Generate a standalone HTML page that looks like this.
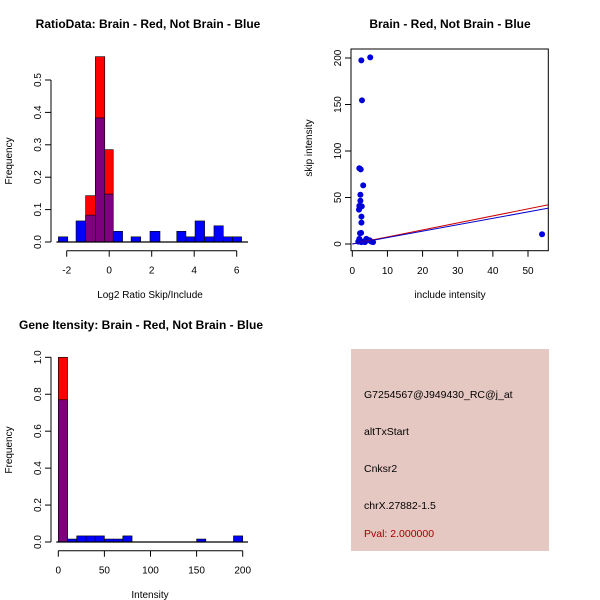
<!DOCTYPE html>
<html><head><meta charset="utf-8"><style>
body{margin:0;background:#fff}
svg{display:block;font-family:"Liberation Sans",sans-serif}
</style></head><body>
<svg id="s" width="600" height="600" viewBox="0 0 600 600">
<rect width="600" height="600" fill="#fff"/>
<text x="148" y="28" font-size="12" font-weight="bold" text-anchor="middle">RatioData: Brain - Red, Not Brain - Blue</text>
<text x="450" y="28" font-size="12" font-weight="bold" text-anchor="middle">Brain - Red, Not Brain - Blue</text>
<text x="141" y="329" font-size="12" font-weight="bold" text-anchor="middle">Gene Itensity: Brain - Red, Not Brain - Blue</text>
<text x="150" y="298" font-size="10" text-anchor="middle">Log2 Ratio Skip/Include</text>
<text transform="translate(12,161) rotate(-90)" font-size="10" text-anchor="middle">Frequency</text>
<text x="450" y="298" font-size="10" text-anchor="middle">include intensity</text>
<text transform="translate(312,148) rotate(-90)" font-size="10" text-anchor="middle">skip intensity</text>
<text x="150" y="598" font-size="10" text-anchor="middle">Intensity</text>
<text transform="translate(12,450) rotate(-90)" font-size="10" text-anchor="middle">Frequency</text>
<g>
<rect x="351" y="349" width="198" height="202" fill="#e6c8c2"/>
<g font-size="10.5">
<text x="364" y="398">G7254567@J949430_RC@j_at</text>
<text x="364" y="435">altTxStart</text>
<text x="364" y="472">Cnksr2</text>
<text x="364" y="509">chrX.27882-1.5</text>
<text x="364" y="537" fill="#a00000">Pval: 2.000000</text>
</g></g>
</svg>
<script>
// Ratio histogram data
const ratioBlueEdges=[[-2.39,-1.95],[-1.56,-1.11],[-1.11,-0.65],[-0.65,-0.21],[-0.21,0.19],[0.19,0.63],[1.03,1.48],[1.92,2.39],[3.18,3.61],[3.61,4.04],[4.04,4.49],[4.49,4.93],[4.93,5.37],[5.37,5.81],[5.81,6.23]];
const ratioBlue=[0.016,0.065,0.083,0.383,0.148,0.033,0.016,0.033,0.033,0.016,0.065,0.016,0.05,0.016,0.016];
const ratioRedEdges=[[-1.11,-0.65],[-0.65,-0.21],[-0.21,0.19]];
const ratioRed=[0.143,0.572,0.285];
const ratioXTicks=[-2,0,2,4,6];
const ratioYTicks=["0.0","0.1","0.2","0.3","0.4","0.5"];
// Intensity histogram data
const intBlueEdges=[[0,10],[10,20],[20,30],[30,40],[40,50],[50,60],[60,70],[70,80],[150,160],[190,200]];
const intBlue=[0.77,0.016,0.033,0.033,0.033,0.016,0.016,0.033,0.016,0.033];
const intRedEdges=[[0,10]];
const intRed=[1.0];
const intXTicks=[0,50,100,150,200];
const intYTicks=["0.0","0.2","0.4","0.6","0.8","1.0"];
// Scatter data
const incl=[2.57,5.1,2.75,2.0,2.4,3.1,2.3,2.3,2.0,2.7,1.9,2.6,2.6,2.5,2.2,2.0,1.7,3.1,4.0,4.9,5.4,5.9,54,2.6,3.6];
const skip=[197.5,200.7,154.5,81.4,80.3,63,53,46.5,41,40.5,37,29.5,23,12,11.5,5.5,2.5,2.5,5.5,4,2.5,2,10.5,2,2];
const redSlope=0.755, blueSlope=0.69;
const scXTicks=[0,10,20,30,40,50];
const scYTicks=[0,50,100,150,200];

const NS="http://www.w3.org/2000/svg", svg=document.getElementById('s');
function mk(t,a,p){const e=document.createElementNS(NS,t);for(const k in a)e.setAttribute(k,a[k]);(p||svg).appendChild(e);return e;}

function hist(g,xs,ys,blueE,blue,redE,red,xt,yt,ymax,ystep,axisY,xFmt){
  const key=e=>e[0]+"_"+e[1];
  const redMap={};redE.forEach((e,i)=>redMap[key(e)]=red[i]);
  const blueMap={};blueE.forEach((e,i)=>blueMap[key(e)]=blue[i]);
  redE.forEach((e,i)=>{const b=blueMap[key(e)]||0;
    const r=mk('rect',{x:xs(e[0]),y:ys(red[i]),width:xs(e[1])-xs(e[0]),height:ys(0)-ys(red[i]),fill:'#ff0000',stroke:'#000','stroke-width':0.6},g);
    
    });
  blueE.forEach((e,i)=>{const rv=redMap[key(e)];const ov=rv!==undefined;
    const r=mk('rect',{x:xs(e[0]),y:ys(blue[i]),width:xs(e[1])-xs(e[0]),height:ys(0)-ys(blue[i]),fill:ov?'#7f007f':'#0000ff',stroke:'#000','stroke-width':0.6},g);
    
    });
  // y axis
  const y0=ys(0), y1=ys((yt.length-1)*ystep);
  mk('line',{x1:51,x2:51,y1:y0,y2:y1,stroke:'#000'},g);
  yt.forEach((l,i)=>{const y=ys(i*ystep);mk('line',{x1:45,x2:51,y1:y,y2:y,stroke:'#000'},g);
    const t=mk('text',{transform:`translate(41,${y}) rotate(-90)`,'font-size':10,'text-anchor':'middle'},g);t.textContent=l;
    
    });
  mk('line',{x1:xs(xt[0]),x2:xs(xt[xt.length-1]),y1:axisY,y2:axisY,stroke:'#000'},g);
  xt.forEach(v=>{const x=xs(v);mk('line',{x1:x,x2:x,y1:axisY,y2:axisY+6,stroke:'#000'},g);
    const t=mk('text',{x:x,y:axisY+23,'font-size':10,'text-anchor':'middle'},g);t.textContent=v;
    
    });
  mk('line',{x1:xs(blueE[0][0])-2,x2:248,y1:y0,y2:y0,stroke:'#000','stroke-width':1.2},g);
}
const g1=mk('g',{});


hist(g1,v=>66.7+(v+2)*21.25,v=>242-v*324,ratioBlueEdges,ratioBlue,ratioRedEdges,ratioRed,ratioXTicks,ratioYTicks,0.5,0.1,250.7);
const g3=mk('g',{});


hist(g3,v=>58.3+v*0.922,v=>542-v*184.7,intBlueEdges,intBlue,intRedEdges,intRed,intXTicks,intYTicks,1,0.2,550.7);

// scatter
const g2=mk('g',{});


const sx=v=>352.3+v*3.514, sy=v=>244-v*0.93;
mk('defs',{},g2).innerHTML='<clipPath id="cp"><rect x="351" y="49" width="197.3" height="201.7"/></clipPath>';
incl.forEach((v,i)=>{const c=mk('circle',{cx:sx(v),cy:sy(skip[i]),r:3,fill:'#0000dd'},g2);
  
  });
const xmax=60;
const lr=mk('line',{x1:sx(0),y1:sy(0),x2:sx(xmax),y2:sy(xmax*redSlope),stroke:'#cc0000','clip-path':'url(#cp)'},g2);


const lb=mk('line',{x1:sx(0),y1:sy(0),x2:sx(xmax),y2:sy(xmax*blueSlope),stroke:'#0000cc','clip-path':'url(#cp)'},g2);


mk('rect',{x:351,y:49,width:197.3,height:201.7,fill:'none',stroke:'#000'},g2);
scXTicks.forEach(v=>{const x=sx(v);mk('line',{x1:x,x2:x,y1:250.7,y2:256.7,stroke:'#000'},g2);
  const t=mk('text',{x:x,y:274,'font-size':10,'text-anchor':'middle'},g2);t.textContent=v;
  
  });
scYTicks.forEach(v=>{const y=sy(v);mk('line',{x1:345,x2:351,y1:y,y2:y,stroke:'#000'},g2);
  const t=mk('text',{transform:`translate(341,${y}) rotate(-90)`,'font-size':10,'text-anchor':'middle'},g2);t.textContent=v;
  
  });
</script>
</body></html>
